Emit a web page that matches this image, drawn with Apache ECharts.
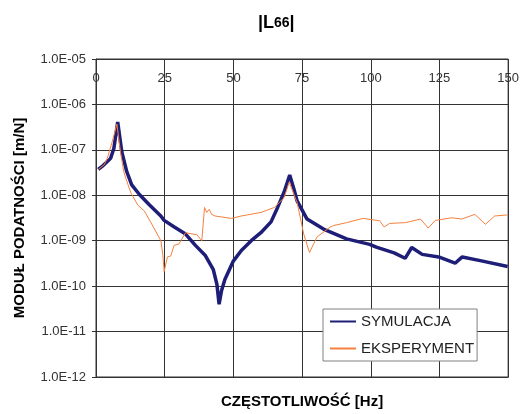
<!DOCTYPE html>
<html>
<head>
<meta charset="utf-8">
<script src="https://cdn.jsdelivr.net/npm/echarts@6/dist/echarts.min.js"></script>
<style>
  html, body { margin: 0; padding: 0; background: #fff; }
  #chart { width: 522px; height: 414px; }
</style>
</head>
<body>
<div id="chart"></div>
<script>
// frequency [Hz] and compliance modulus [m/N]
const symFreq = [0.8, 2.6, 4.5, 5.3, 6.5, 7.9, 9.4, 11.2, 13.0, 15.8, 19.4, 23.6, 24.8, 28.5, 32.6, 36.1, 39.7, 42.7, 44.0, 44.8, 45.7, 46.9, 49.9, 52.9, 56.5, 60.0, 63.7, 66.1, 68.5, 70.5, 72.0, 73.2, 76.8, 82.8, 91.2, 99.6, 102.0, 108.5, 112.5, 114.9, 118.7, 124.7, 130.7, 133.3, 140.3, 149.8];
const symVal = [3.7e-8, 4.5e-8, 5.8e-8, 6.5e-8, 1.07e-7, 4.1e-7, 9.0e-8, 3.3e-8, 1.7e-8, 1.04e-8, 6.2e-9, 3.5e-9, 2.8e-9, 2.0e-9, 1.4e-9, 8.0e-10, 4.8e-10, 2.3e-10, 1.1e-10, 4.0e-11, 8.0e-11, 1.4e-10, 3.5e-10, 6.1e-10, 1.0e-9, 1.5e-9, 2.6e-9, 5.4e-9, 1.2e-8, 2.8e-8, 1.4e-8, 7.5e-9, 3.0e-9, 1.8e-9, 1.1e-9, 8.3e-10, 7.2e-10, 5.4e-10, 4.1e-10, 7.1e-10, 5.0e-10, 4.4e-10, 3.2e-10, 4.4e-10, 3.6e-10, 2.7e-10];

const expFreq = [0.8, 3.0, 4.1, 5.9, 7.6, 8.9, 10.1, 11.8, 12.8, 15.2, 17.6, 20.0, 23.6, 24.3, 24.8, 26.0, 27.2, 28.4, 30.2, 32.6, 36.7, 38.5, 39.5, 40.3, 41.2, 42.1, 43.3, 49.3, 52.9, 60.1, 64.9, 68.5, 70.3, 73.2, 75.6, 77.7, 80.4, 85.2, 86.4, 91.2, 97.2, 103.2, 104.9, 106.8, 112.7, 118.1, 120.9, 123.5, 129.5, 133.1, 137.9, 141.7, 145.1, 149.8];
const expVal = [3.7e-8, 4.7e-8, 6.5e-8, 1.5e-7, 3.7e-7, 9.0e-8, 3.3e-8, 1.6e-8, 1.1e-8, 6.1e-9, 4.5e-9, 2.5e-9, 1.0e-9, 5.0e-10, 2.1e-10, 4.4e-10, 4.6e-10, 7.9e-10, 8.5e-10, 1.5e-9, 1.35e-9, 1.0e-9, 5.4e-9, 4.2e-9, 4.9e-9, 3.8e-9, 3.5e-9, 3.1e-9, 3.5e-9, 4.2e-9, 5.4e-9, 8.9e-9, 1.95e-8, 6.9e-9, 1.4e-9, 5.5e-10, 1.2e-9, 2.0e-9, 2.15e-9, 2.5e-9, 3.1e-9, 2.75e-9, 2.0e-9, 2.4e-9, 2.5e-9, 3.0e-9, 1.9e-9, 2.8e-9, 3.2e-9, 3.0e-9, 3.8e-9, 2.3e-9, 3.5e-9, 3.7e-9];

const seriesNames = ['SYMULACJA', 'EKSPERYMENT'];
const FONT = 'Liberation Sans';

const chart = echarts.init(document.getElementById('chart'));

const option = {
    animation: false,
    textStyle: { fontFamily: FONT },
    title: {
        text: '{a||L}{b|66}{a||}',
        left: 258,
        top: 13,
        padding: 0,
        textStyle: {
            rich: {
                a: { fontFamily: FONT, fontSize: 18, fontWeight: 'bold', color: '#000', verticalAlign: 'middle', lineHeight: 20 },
                b: { fontFamily: FONT, fontSize: 14, fontWeight: 'bold', color: '#000', verticalAlign: 'middle', lineHeight: 20 }
            }
        }
    },
    grid: {
        left: 96,
        right: 9,
        top: 59,
        bottom: 32,
        show: true,
        borderColor: '#333',
        borderWidth: 1
    },
    legend: {
        orient: 'vertical',
        left: 323,
        top: 309,
        padding: [5, 3, 5, 6],
        backgroundColor: '#fff',
        borderColor: '#808080',
        borderWidth: 1,
        itemWidth: 26,
        itemHeight: 14,
        itemGap: 12,
        itemStyle: { opacity: 0 },
        textStyle: { fontFamily: FONT, fontSize: 15, color: '#222' },
        data: seriesNames
    },
    xAxis: [{
        type: 'value',
        position: 'top',
        min: 0,
        max: 150,
        interval: 25,
        axisLine: { show: true, lineStyle: { color: '#333' } },
        axisTick: { show: false },
        axisLabel: { inside: true, margin: 13, fontSize: 13, color: '#333', fontFamily: FONT },
        splitLine: { show: true, lineStyle: { color: '#333', width: 1 } }
    }, {
        type: 'value',
        position: 'bottom',
        min: 0,
        max: 150,
        axisLine: { show: true, lineStyle: { color: '#333' } },
        axisTick: { show: false },
        axisLabel: { show: false },
        splitLine: { show: false },
        name: 'CZĘSTOTLIWOŚĆ [Hz]',
        nameLocation: 'middle',
        nameGap: 17,
        nameTextStyle: { fontFamily: FONT, fontSize: 15, fontWeight: 'bold', color: '#000' }
    }],
    yAxis: {
        type: 'log',
        logBase: 10,
        min: 1e-12,
        max: 1e-5,
        name: 'MODUŁ PODATNOŚCI [m/N]',
        nameLocation: 'middle',
        nameGap: 69,
        nameTextStyle: { fontFamily: FONT, fontSize: 15, fontWeight: 'bold', color: '#000' },
        axisLine: { show: true, lineStyle: { color: '#333' } },
        axisTick: { show: true, length: 4, lineStyle: { color: '#333' } },
        axisLabel: {
            fontSize: 13,
            color: '#333',
            margin: 10,
            fontFamily: FONT,
            formatter: function (v) {
                const e = Math.round(Math.log10(v));
                const a = Math.abs(e);
                return '1.0E' + (e < 0 ? '-' : '+') + (a < 10 ? '0' + a : a);
            }
        },
        splitLine: { show: true, lineStyle: { color: '#333', width: 1 } }
    },
    series: [{
        name: seriesNames[0],
        type: 'line',
        symbol: 'none',
        xAxisIndex: 0,
        lineStyle: { color: '#1e1e78', width: 3.5 },
        itemStyle: { color: '#1e1e78' },
        data: symFreq.map((f, i) => [f, symVal[i]])
    }, {
        name: seriesNames[1],
        type: 'line',
        symbol: 'none',
        xAxisIndex: 0,
        lineStyle: { color: '#f5803e', width: 1 },
        itemStyle: { color: '#f5803e' },
        data: expFreq.map((f, i) => [f, expVal[i]])
    }]
};

chart.setOption(option);
</script>
</body>
</html>
